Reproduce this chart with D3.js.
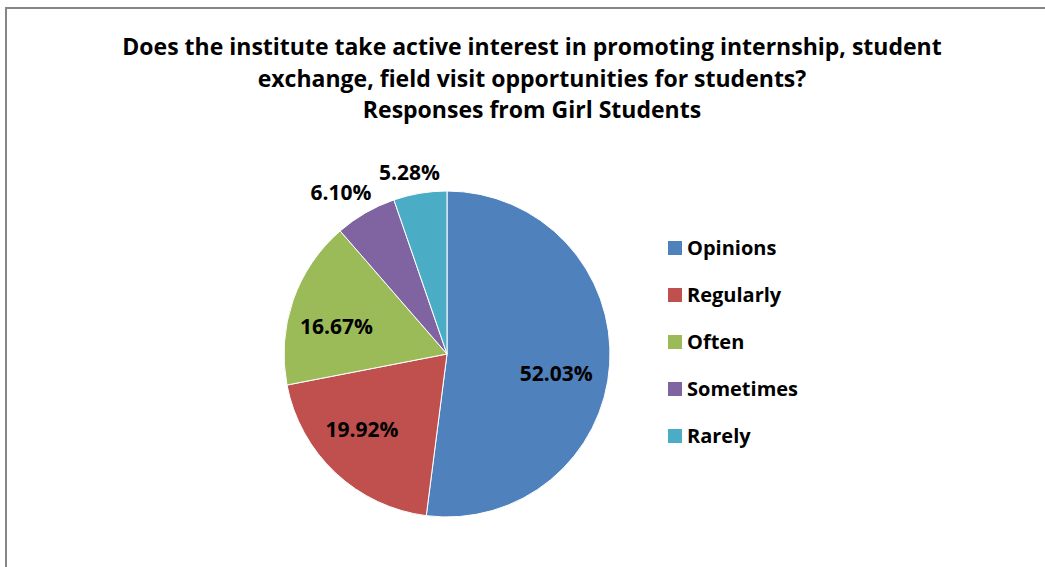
<!DOCTYPE html>
<html lang="en">
<head>
  <meta charset="utf-8">
  <title>Girl Students Responses</title>
  <script src="https://d3js.org/d3.v7.min.js"></script>
  <style>
  body { margin: 0; background: #fff; }
  text { font-family: "Open Sans", "Noto Sans", sans-serif; font-weight: bold; fill: #000; }
  </style>
</head>
<body>
  <script>
  // data
  var categories = ["Opinions", "Regularly", "Often", "Sometimes", "Rarely"];
  var values = [52.03, 19.92, 16.67, 6.10, 5.28];
  var colors = ["#4F81BD", "#C0504D", "#9BBB59", "#8064A2", "#4BACC6"];
  var titleLines = [
    "Does the institute take active interest in promoting internship, student",
    "exchange, field visit opportunities for students?",
    "Responses from Girl Students"
  ];

  // label placement (radius as fraction of pie radius, angle shift in degrees)
  var labelRadius = [0.68, 0.695, 0.70, 1.188, 1.136];
  var labelShift = [6.5, 5.4, -4.8, -3.2, -2.2];

  var width = 1045;
  var height = 567;
  var cx = 447, cy = 354, r = 163;

  var svg = d3.select("body")
    .append("svg")
    .attr("width", width)
    .attr("height", height);

  // chart border
  svg.append("rect")
    .attr("x", 6)
    .attr("y", 8)
    .attr("width", 1100)
    .attr("height", 700)
    .attr("fill", "#fff")
    .attr("stroke", "#868686")
    .attr("stroke-width", 2);

  // title
  svg.append("g").selectAll("text")
    .data(titleLines)
    .enter()
    .append("text")
    .attr("x", 532)
    .attr("y", function(d, i) { return 55 + i * 31.5; })
    .attr("text-anchor", "middle")
    .style("font-size", "23px")
    .text(function(d) { return d; });

  var pie = d3.pie().sort(null).value(function(d) { return d; });
  var arcs = pie(values);
  var arc = d3.arc().innerRadius(0).outerRadius(r);

  var g = svg.append("g").attr("transform", "translate(" + cx + "," + cy + ")");

  g.selectAll("path")
    .data(arcs)
    .enter()
    .append("path")
    .attr("d", arc)
    .attr("fill", function(d, i) { return colors[i]; })
    .attr("stroke", "#fff")
    .attr("stroke-width", 1);

  g.selectAll("text")
    .data(arcs)
    .enter()
    .append("text")
    .attr("transform", function(d, i) {
      var a = (d.startAngle + d.endAngle) / 2 + labelShift[i] * Math.PI / 180;
      var rr = r * labelRadius[i];
      return "translate(" + (rr * Math.sin(a)) + "," + (-rr * Math.cos(a)) + ")";
    })
    .attr("text-anchor", "middle")
    .attr("dy", "0.36em")
    .style("font-size", "21px")
    .text(function(d) { return d.value.toFixed(2) + "%"; });

  // legend
  var legend = svg.append("g").selectAll("g")
    .data(categories)
    .enter()
    .append("g")
    .attr("transform", function(d, i) { return "translate(668," + (248 + i * 47) + ")"; });

  legend.append("rect")
    .attr("x", 0)
    .attr("y", -7)
    .attr("width", 14)
    .attr("height", 14)
    .attr("fill", function(d, i) { return colors[i]; });

  legend.append("text")
    .attr("x", 19)
    .attr("y", 7)
    .style("font-size", "20px")
    .text(function(d) { return d; });
  </script>
</body>
</html>
